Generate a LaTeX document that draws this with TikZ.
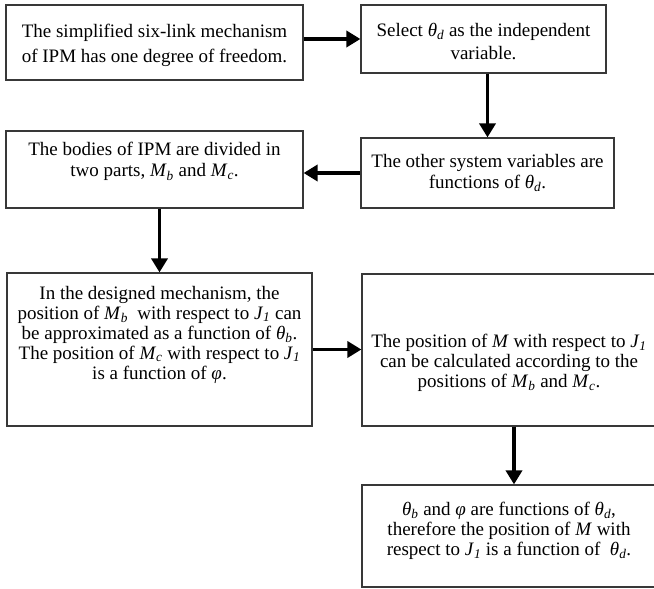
\documentclass[tikz,border=0pt]{standalone}
\usepackage{fontspec}
\setmainfont{Liberation Serif}
\usetikzlibrary{arrows.meta}
\newcommand{\thd}{\textit{θ}\textsubscript{\textit{d}}}
\newcommand{\thb}{\textit{θ}\textsubscript{\textit{b}}}
\newcommand{\Mb}{\textit{M}\textsubscript{\textit{b}}}
\newcommand{\Mc}{\textit{M}\textsubscript{\textit{c}}}
\newcommand{\Jl}{\textit{J}\textsubscript{\textit{1}}}
\begin{document}
\begin{tikzpicture}[x=1pt,y=1pt,
  boxst/.style={draw=black!78,line width=1.2pt,rectangle,inner sep=0pt},
  txt/.style={align=center,inner sep=0pt,text=black},
  arr/.style={line width=3.6pt,-{Triangle[length=14pt,width=16pt]}}]
\useasboundingbox (0,0) rectangle (654,-589);
% boxes
\node[boxst,minimum width=297pt,minimum height=75pt] (b1) at (154.5,-42.5) {};
\node[boxst,minimum width=245pt,minimum height=68pt] (b2) at (483.5,-39) {};
\node[boxst,minimum width=253pt,minimum height=70pt] (b3) at (487.5,-173) {};
\node[boxst,minimum width=297pt,minimum height=77pt] (b4) at (154.5,-169.5) {};
\node[boxst,minimum width=305pt,minimum height=153pt] (b5) at (159.5,-349.5) {};
\node[boxst,minimum width=294pt,minimum height=152pt] (b6) at (509,-350) {};
\node[boxst,minimum width=294pt,minimum height=102pt] (b7) at (509,-536) {};
% texts
\node[txt,font=\fontsize{19}{25.5}\selectfont] (t1) at ([yshift=-3pt]b1.center)
  {The simplified six-link mechanism\\of IPM has one degree of freedom.};
\node[txt,font=\fontsize{19}{23}\selectfont] (t2) at ([yshift=-2pt]b2.center)
  {Select \thd\ as the independent\\variable.};
\node[txt,font=\fontsize{19}{21.5}\selectfont] (t3) at (b3.center)
  {The other system variables are\\functions of \thd.};
\node[txt,font=\fontsize{19}{21.5}\selectfont] (t4) at ([yshift=8pt]b4.center)
  {The bodies of IPM are divided in\\two parts, \Mb\ and \Mc.};
\node[txt,font=\fontsize{19}{20}\selectfont] (t5) at ([yshift=15pt]b5.center)
  {In the designed mechanism, the\\position of \Mb\ \ with respect to \Jl\ can\\be approximated as a function of \thb.\\The position of \Mc\ with respect to \Jl\\is a function of \textit{φ}.};
\node[txt,font=\fontsize{19}{20}\selectfont] (t6) at ([yshift=-13pt]b6.center)
  {The position of \textit{M} with respect to \Jl\\can be calculated according to the\\positions of \Mb\ and \Mc.};
\node[txt,font=\fontsize{19}{20}\selectfont] (t7) at ([yshift=5pt]b7.center)
  {\thb\ and \textit{φ} are functions of \thd,\\therefore the position of \textit{M} with\\respect to \Jl\ is a function of \ \thd.};
% connectors
\draw[arr] (b1.east |- b2.west) -- (b2.west);
\draw[arr] (b2.south -| b3.north) -- (b3.north);
\draw[arr] (b3.west) -- (b3.west -| b4.east);
\draw[arr] (b4.south -| b5.north) -- (b5.north);
\draw[arr] (b5.east) -- (b5.east -| b6.west);
\draw[arr] ([xshift=5pt]b6.south) -- ([xshift=5pt]b7.north);
\end{tikzpicture}
\end{document}
